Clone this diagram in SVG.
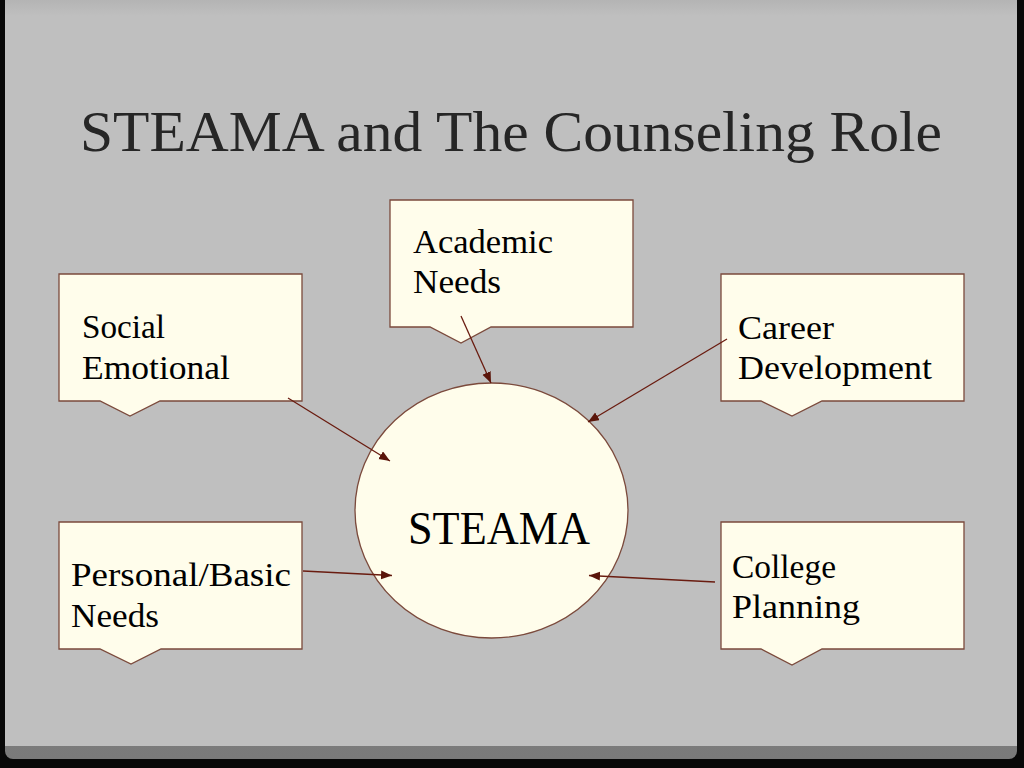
<svg xmlns="http://www.w3.org/2000/svg" width="1024" height="768" viewBox="0 0 1024 768">
<defs>
<style>
.box{fill:#fffdeb;stroke:#7b4a3c;stroke-width:1.3}
.lbl{font-family:"Liberation Serif","Times New Roman",serif;font-size:33px;fill:#000}
.title{font-family:"Liberation Serif","Times New Roman",serif;font-size:58px;fill:#262626}
.conn{stroke:#6a1c10;stroke-width:1.3;fill:none;marker-end:url(#arr)}
</style>
<marker id="arr" markerUnits="userSpaceOnUse" markerWidth="12" markerHeight="10" refX="11" refY="4.5" orient="auto">
<path d="M0,0 L11,4.5 L0,9 Z" fill="#5a150a"/>
</marker>
<linearGradient id="topg" x1="0" y1="0" x2="0" y2="1">
<stop offset="0" stop-color="#b4b4b4"/>
<stop offset="1" stop-color="#bfbfbf"/>
</linearGradient>
<linearGradient id="botg" x1="0" y1="0" x2="0" y2="1">
<stop offset="0" stop-color="#a6a6a6"/>
<stop offset="1" stop-color="#7a7a7a"/>
</linearGradient>
</defs>
<rect x="0" y="0" width="1024" height="768" fill="#080808"/>
<rect x="5" y="0" width="1012" height="759" rx="8" fill="url(#botg)"/>
<rect x="5" y="0" width="1012" height="746" fill="#bfbfbf"/>
<rect x="5" y="0" width="1012" height="16" fill="url(#topg)"/>

<g id="title">
<text class="title" x="80" y="151" textLength="862" lengthAdjust="spacingAndGlyphs">STEAMA and The Counseling Role</text>
</g>

<g id="steama">
<ellipse cx="491.5" cy="510.5" rx="136.5" ry="127.5" fill="#fffdeb" stroke="#7b4a3c" stroke-width="1.3"/>
<text class="lbl" style="font-size:46px" x="408" y="544" textLength="182" lengthAdjust="spacingAndGlyphs">STEAMA</text>
</g>

<g id="academic">
<path class="box" d="M390,200 H633 V327 H491 L461,343 L430,327 H390 Z"/>
<text class="lbl" x="413" y="253" textLength="140" lengthAdjust="spacingAndGlyphs">Academic</text>
<text class="lbl" x="413" y="293" textLength="88" lengthAdjust="spacingAndGlyphs">Needs</text>
</g>

<g id="social">
<path class="box" d="M59,274 H302 V401 H160 L130,416 L100,401 H59 Z"/>
<text class="lbl" x="82" y="338" textLength="83" lengthAdjust="spacingAndGlyphs">Social</text>
<text class="lbl" x="82" y="379" textLength="148" lengthAdjust="spacingAndGlyphs">Emotional</text>
</g>

<g id="career">
<path class="box" d="M721,274 H964 V401 H822 L792,416 L761,401 H721 Z"/>
<text class="lbl" x="738" y="339" textLength="96" lengthAdjust="spacingAndGlyphs">Career</text>
<text class="lbl" x="738" y="379" textLength="194" lengthAdjust="spacingAndGlyphs">Development</text>
</g>

<g id="personal">
<path class="box" d="M59,522 H302 V649 H161 L131,664 L100,649 H59 Z"/>
<text class="lbl" x="71" y="586" textLength="220" lengthAdjust="spacingAndGlyphs">Personal/Basic</text>
<text class="lbl" x="71" y="627" textLength="88" lengthAdjust="spacingAndGlyphs">Needs</text>
</g>

<g id="college">
<path class="box" d="M721,522 H964 V649 H822 L792,665 L761,649 H721 Z"/>
<text class="lbl" x="732" y="578" textLength="104" lengthAdjust="spacingAndGlyphs">College</text>
<text class="lbl" x="732" y="618" textLength="128" lengthAdjust="spacingAndGlyphs">Planning</text>
</g>

<g id="connectors">
<line class="conn" x1="461" y1="316" x2="491" y2="383"/>
<line class="conn" x1="288" y1="398" x2="390" y2="461"/>
<line class="conn" x1="727" y1="339" x2="588" y2="422"/>
<line class="conn" x1="303" y1="571" x2="392" y2="575.5"/>
<line class="conn" x1="715" y1="582" x2="589" y2="575.5"/>
</g>
</svg>
